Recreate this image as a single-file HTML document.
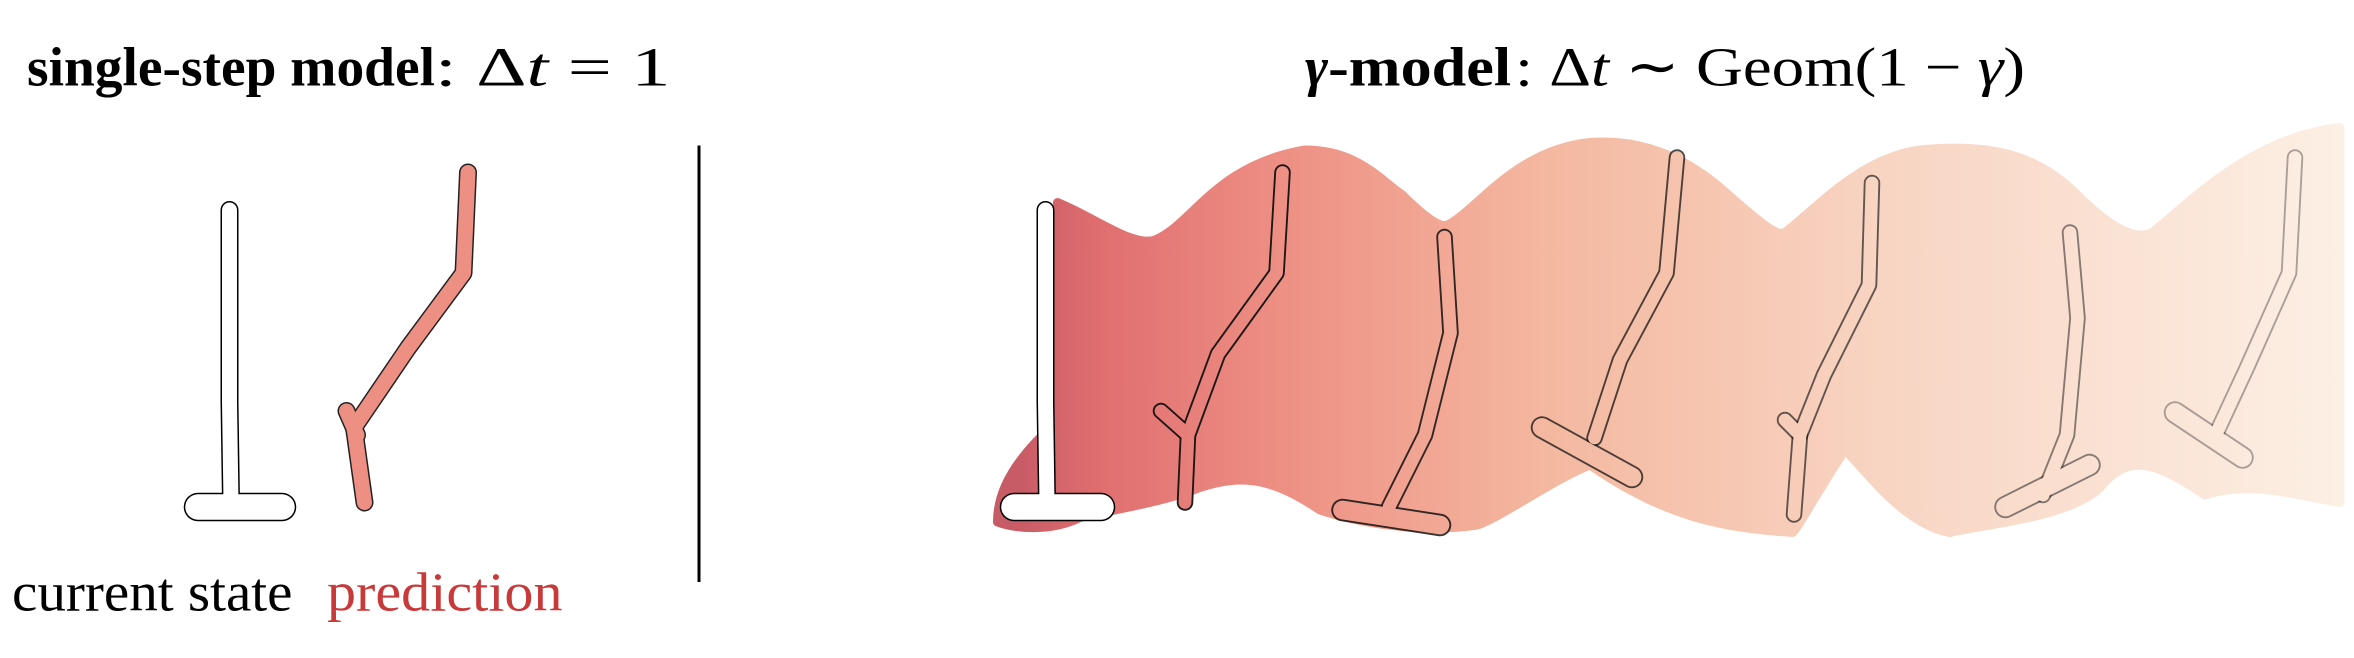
<!DOCTYPE html>
<html><head><meta charset="utf-8"><style>
html,body{margin:0;padding:0;background:#fff;}
svg{display:block;}
text{font-family:"Liberation Serif",serif;}
</style></head><body>
<svg width="2354" height="658" viewBox="0 0 2354 658">
<defs>
<linearGradient id="grad" gradientUnits="userSpaceOnUse" x1="680" y1="0" x2="1560" y2="0">
<stop offset="0" stop-color="#c85c66"/>
<stop offset="0.06" stop-color="#e06e70"/>
<stop offset="0.2" stop-color="#ee9084"/>
<stop offset="0.4" stop-color="#f4b8a0"/>
<stop offset="0.65" stop-color="#f8d4c2"/>
<stop offset="1" stop-color="#fcefe4"/>
</linearGradient>
</defs>
<g transform="scale(1.5)">
<text x="18" y="57" font-size="37"><tspan font-weight="bold" textLength="272" lengthAdjust="spacingAndGlyphs">single-step model</tspan><tspan x="290" textLength="157" lengthAdjust="spacingAndGlyphs">: Δ<tspan font-style="italic">t</tspan> = 1</tspan></text>
<text x="870" y="57" font-size="37"><tspan font-weight="bold" font-style="italic">γ</tspan><tspan font-weight="bold" textLength="122" lengthAdjust="spacingAndGlyphs">-model</tspan><tspan x="1010" textLength="340" lengthAdjust="spacingAndGlyphs">: Δ<tspan font-style="italic">t</tspan> ∼ Geom(1 − <tspan font-style="italic">γ</tspan>)</tspan></text>
<line x1="466" y1="97" x2="466" y2="388" stroke="#000" stroke-width="2"/>
<text x="8" y="407" font-size="37" textLength="187" lengthAdjust="spacingAndGlyphs">current state</text>
<text x="218" y="407" font-size="37" textLength="157" lengthAdjust="spacingAndGlyphs" fill="#c8393a">prediction</text>

<g fill="none" stroke-linecap="round" stroke-linejoin="round">
<polyline points="153,140 153,268 154,335" stroke="#000" stroke-width="12"/>
<line x1="132" y1="338" x2="188" y2="338" stroke="#000" stroke-width="19"/>
<polyline points="153,140 153,268 154,335" stroke="#fff" stroke-width="10"/>
<line x1="132" y1="338" x2="188" y2="338" stroke="#fff" stroke-width="17"/>
</g>
<g fill="none" stroke-linecap="round" stroke-linejoin="round">
<polyline points="312,115 309,182 272,232 236,285 243,335" stroke="#222" stroke-width="12"/>
<line x1="231" y1="274" x2="238" y2="290" stroke="#222" stroke-width="12"/>
<polyline points="312,115 309,182 272,232 236,285 243,335" stroke="#ee8f84" stroke-width="10"/>
<line x1="231" y1="274" x2="238" y2="290" stroke="#ee8f84" stroke-width="10"/>
</g>

<path fill="url(#grad)" stroke="url(#grad)" stroke-width="6" stroke-linejoin="round"
d="M705,135 C730,145 755,165 770,160 C795,150 810,110 870,100 C905,100 920,120 935,130 C950,145 960,152 965,150 C985,140 1010,100 1060,95 C1100,92 1130,110 1150,128 C1175,150 1185,158 1190,155 C1210,140 1240,105 1280,100 C1330,95 1360,105 1385,130 C1410,155 1425,160 1435,155 C1460,135 1500,92 1560,85 L1560,335 C1530,330 1500,320 1470,330 C1440,310 1420,300 1400,325 C1380,345 1320,350 1300,355 C1270,350 1245,315 1230,300 C1210,330 1200,350 1195,355 C1150,352 1110,345 1060,310 C1035,320 1000,345 985,350 C950,355 910,350 880,340 C850,320 830,315 800,325 C775,335 740,340 720,345 C700,355 675,352 665,348 C665,320 685,300 705,280 Z"/>

<g fill="none" stroke-linecap="round" stroke-linejoin="round">
<g>
<polyline points="697,140 697,268 698,335" stroke="#000" stroke-width="12"/>
<line x1="676" y1="338" x2="734" y2="338" stroke="#000" stroke-width="19"/>
<polyline points="697,140 697,268 698,335" stroke="#fff" stroke-width="10"/>
<line x1="676" y1="338" x2="734" y2="338" stroke="#fff" stroke-width="17"/>
</g>
<g>
<polyline points="855,115 851,182 812,236 792,290 790,335" stroke="#111" stroke-width="11" stroke-opacity="0.95"/>
<line x1="774" y1="274" x2="792" y2="290" stroke="#111" stroke-width="11" stroke-opacity="0.95"/>
<polyline points="855,115 851,182 812,236 792,290 790,335" stroke="url(#grad)" stroke-width="8.5"/>
<line x1="774" y1="274" x2="792" y2="290" stroke="url(#grad)" stroke-width="8.5"/>
</g>
<g>
<polyline points="963,158 967,222 950,290 926,338" stroke="#111" stroke-width="11" stroke-opacity="0.85"/>
<line x1="895" y1="340" x2="960" y2="350" stroke="#111" stroke-width="15" stroke-opacity="0.85"/>
<polyline points="963,158 967,222 950,290 926,338" stroke="url(#grad)" stroke-width="8.5"/>
<line x1="895" y1="340" x2="960" y2="350" stroke="url(#grad)" stroke-width="12.5"/>
</g>
<g>
<polyline points="1118,105 1111,182 1080,240 1063,292" stroke="#111" stroke-width="11" stroke-opacity="0.75"/>
<line x1="1028" y1="285" x2="1088" y2="318" stroke="#111" stroke-width="15" stroke-opacity="0.75"/>
<polyline points="1118,105 1111,182 1080,240 1063,292" stroke="url(#grad)" stroke-width="8.5"/>
<line x1="1028" y1="285" x2="1088" y2="318" stroke="url(#grad)" stroke-width="12.5"/>
</g>
<g>
<polyline points="1248,122 1246,190 1216,250 1200,290 1196,343" stroke="#111" stroke-width="11" stroke-opacity="0.65"/>
<line x1="1190" y1="280" x2="1200" y2="290" stroke="#111" stroke-width="11" stroke-opacity="0.65"/>
<polyline points="1248,122 1246,190 1216,250 1200,290 1196,343" stroke="url(#grad)" stroke-width="8.5"/>
<line x1="1190" y1="280" x2="1200" y2="290" stroke="url(#grad)" stroke-width="8.5"/>
</g>
<g>
<polyline points="1380,155 1385,212 1378,290 1362,330" stroke="#111" stroke-width="11" stroke-opacity="0.5"/>
<line x1="1337" y1="338" x2="1393" y2="310" stroke="#111" stroke-width="15" stroke-opacity="0.5"/>
<polyline points="1380,155 1385,212 1378,290 1362,330" stroke="url(#grad)" stroke-width="8.5"/>
<line x1="1337" y1="338" x2="1393" y2="310" stroke="url(#grad)" stroke-width="12.5"/>
</g>
<g>
<polyline points="1530,105 1526,182 1498,245 1478,288" stroke="#111" stroke-width="11" stroke-opacity="0.35"/>
<line x1="1450" y1="275" x2="1495" y2="305" stroke="#111" stroke-width="15" stroke-opacity="0.35"/>
<polyline points="1530,105 1526,182 1498,245 1478,288" stroke="url(#grad)" stroke-width="8.5"/>
<line x1="1450" y1="275" x2="1495" y2="305" stroke="url(#grad)" stroke-width="12.5"/>
</g>
</g>
</g>
</svg>
</body></html>
